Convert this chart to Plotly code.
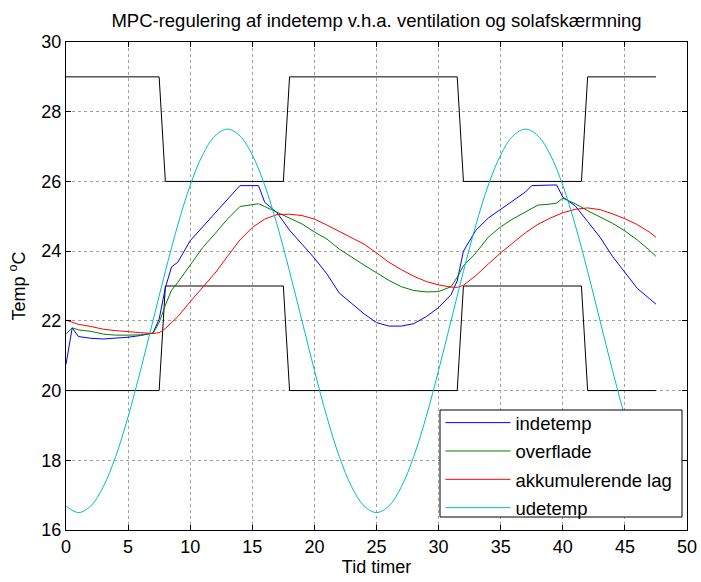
import plotly.graph_objects as go

# ---- data ----
t_inde = [0, 0.5, 1, 2, 3, 4, 5, 6, 7, 7.5, 8, 8.5, 9, 10, 11, 12, 13, 14, 15.5, 16, 17, 18, 19, 20, 21, 22,
          23, 24, 25, 26, 27, 28, 29, 30, 31, 31.5, 32, 33, 34, 35, 36, 37, 37.5, 39.5, 40, 41, 42, 43, 44,
          45, 46, 47, 47.5]
indetemp = [20.75, 21.80, 21.55, 21.50, 21.48, 21.50, 21.53, 21.58, 21.65, 22.05, 22.95, 23.55, 23.68, 24.30,
            24.70, 25.10, 25.50, 25.88, 25.88, 25.40, 25.10, 24.60, 24.20, 23.80, 23.35, 22.80, 22.50, 22.20,
            21.95, 21.85, 21.85, 21.92, 22.12, 22.38, 22.75, 23.15, 24.00, 24.60, 24.95, 25.20, 25.45, 25.70,
            25.88, 25.90, 25.55, 25.30, 24.85, 24.40, 23.85, 23.40, 22.93, 22.63, 22.48]

t_over = [0, 0.5, 1, 2, 3, 4, 5, 6, 7, 7.5, 8, 8.5, 9, 10, 11, 12, 13, 14, 15, 15.5, 16, 17, 18, 19, 20, 21,
          22, 23, 24, 25, 26, 27, 28, 29, 30, 31, 31.5, 32, 33, 34, 35, 36, 37, 38, 39, 39.5, 40, 41, 42, 43,
          44, 45, 46, 47, 47.5]
overflade = [21.62, 21.80, 21.74, 21.70, 21.62, 21.59, 21.59, 21.60, 21.64, 21.95, 22.45, 22.88, 23.10, 23.60,
             24.10, 24.50, 24.92, 25.28, 25.33, 25.36, 25.28, 25.12, 24.95, 24.78, 24.55, 24.35, 24.06, 23.82,
             23.60, 23.38, 23.16, 22.98, 22.87, 22.83, 22.84, 22.98, 23.25, 23.58, 23.95, 24.40, 24.70, 24.93,
             25.12, 25.32, 25.35, 25.38, 25.52, 25.36, 25.16, 24.98, 24.80, 24.58, 24.32, 24.02, 23.85]

t_akku = [0, 1, 2, 3, 4, 5, 6, 7, 7.5, 8, 9, 10, 11, 12, 13, 14, 15, 16, 17, 18, 19, 20, 21, 22, 23, 24, 25,
          26, 27, 28, 29, 30, 31, 31.5, 32, 33, 34, 35, 36, 37, 38, 39, 40, 41, 42, 43, 44, 45, 46, 47, 47.5]
akkumulerende = [22.02, 21.90, 21.84, 21.76, 21.72, 21.68, 21.66, 21.64, 21.66, 21.78, 22.12, 22.55, 22.95,
                 23.37, 23.85, 24.32, 24.68, 24.92, 25.05, 25.06, 25.02, 24.92, 24.75, 24.57, 24.39, 24.20,
                 23.95, 23.68, 23.47, 23.28, 23.13, 23.03, 22.97, 22.96, 23.02, 23.30, 23.63, 23.95, 24.24,
                 24.53, 24.77, 24.95, 25.10, 25.20, 25.24, 25.19, 25.07, 24.93, 24.76, 24.54, 24.40]

t_ude = list(range(0, 48)) + [47.5]
udetemp = [16.69, 16.50, 16.69, 17.24, 18.11, 19.25, 20.58, 22.00, 23.42, 24.75, 25.89, 26.76, 27.31, 27.50,
           27.31, 26.76, 25.89, 24.75, 23.42, 22.00, 20.58, 19.25, 18.11, 17.24,
           16.69, 16.50, 16.69, 17.24, 18.11, 19.25, 20.58, 22.00, 23.42, 24.75, 25.89, 26.76, 27.31, 27.50,
           27.31, 26.76, 25.89, 24.75, 23.42, 22.00, 20.58, 19.25, 18.11, 17.24, 16.92]

t_lim = [0, 7.5, 8, 17.5, 18, 31.5, 32, 41.5, 42, 47.5]
upper_lim = [29, 29, 26, 26, 29, 29, 26, 26, 29, 29]
lower_lim = [20, 20, 23, 23, 20, 20, 23, 23, 20, 20]

FONT = "Arial, Liberation Sans, sans-serif"

fig = go.Figure()
fig.add_trace(go.Scatter(x=t_lim, y=upper_lim, mode="lines", line=dict(color="black", width=1), showlegend=False))
fig.add_trace(go.Scatter(x=t_lim, y=lower_lim, mode="lines", line=dict(color="black", width=1), showlegend=False))
fig.add_trace(go.Scatter(x=t_inde, y=indetemp, mode="lines", name="indetemp", legendgroup="a",
                         line=dict(color="#0000FF", width=1)))
fig.add_trace(go.Scatter(x=t_over, y=overflade, mode="lines", name="overflade", legendgroup="b",
                         line=dict(color="#008000", width=1)))
fig.add_trace(go.Scatter(x=t_akku, y=akkumulerende, mode="lines", name="akkumulerende lag", legendgroup="c",
                         line=dict(color="#FF0000", width=1)))
fig.add_trace(go.Scatter(x=t_ude, y=udetemp, mode="lines", name="udetemp", legendgroup="d",
                         line=dict(color="#00BFBF", width=1, shape="spline")))

axis_common = dict(showline=True, linecolor="black", linewidth=1, mirror="ticks", ticks="inside",
                   ticklen=5, tickcolor="black", showgrid=True, gridcolor="#a0a0a0", griddash="dot",
                   gridwidth=1, zeroline=False, automargin=False,
                   tickfont=dict(family=FONT, size=18, color="black"))

# legend box (white, black border) drawn over the traces
fig.add_shape(type="rect", xref="paper", yref="paper",
              x0=(440 - 66) / 621, x1=(682 - 66) / 621, y0=(530 - 517) / 488, y1=(530 - 410) / 488,
              fillcolor="white", line=dict(color="black", width=1), layer="above")

fig.update_layout(
    width=701, height=582, autosize=False,
    margin=dict(l=66, r=14, t=42, b=52, autoexpand=False),
    paper_bgcolor="white", plot_bgcolor="white",
    font=dict(family=FONT, color="black"),
    title=dict(text="MPC-regulering af indetemp v.h.a. ventilation og solafskærmning",
               x=0.5, xref="paper", xanchor="center", y=0.965, yanchor="middle",
               font=dict(family=FONT, size=18.5, color="black")),
    xaxis=dict(range=[0, 50], dtick=5, tick0=0,
               title=dict(text="Tid timer", font=dict(family=FONT, size=18), standoff=2), **axis_common),
    yaxis=dict(range=[16, 30], dtick=2, tick0=16,
               title=dict(text="Temp <sup>o</sup>C", font=dict(family=FONT, size=18), standoff=11), **axis_common),
    legend=dict(x=0.603, y=0.258, xanchor="left", yanchor="top", bgcolor="rgba(0,0,0,0)",
                borderwidth=0, font=dict(family=FONT, size=18.5, color="black"),
                tracegroupgap=1.3, itemwidth=65),
    showlegend=True,
)

fig.write_html("out.html", config={"responsive": False})
